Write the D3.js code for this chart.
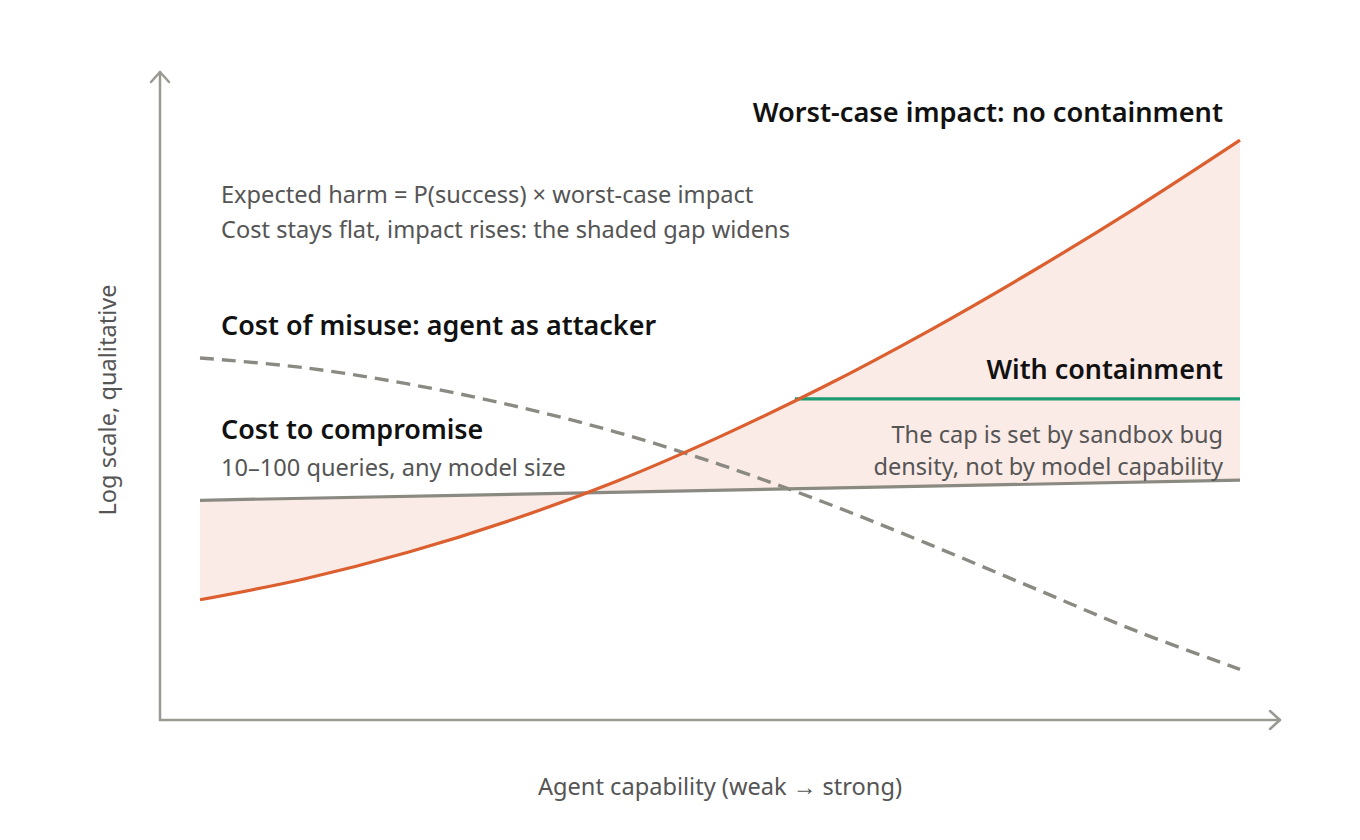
<!DOCTYPE html>
<html>
<head>
<meta charset="utf-8">
<script src="https://cdn.jsdelivr.net/npm/d3@7"></script>
<style>
  html, body { margin: 0; padding: 0; background: #ffffff; }
  svg { display: block; font-family: "Noto Sans", "Open Sans", sans-serif; }
</style>
</head>
<body>
<svg id="chart" width="1360" height="840"></svg>
<script>
// ---- Data (qualitative, log scale units 0..100; capability 0..10) ----
const capability = [0, 1, 2, 3, 4, 5, 6, 7, 8, 9, 10];
const worstCaseImpact = [18.5, 21.7, 25.8, 30.8, 36.7, 43.6, 51.3, 59.8, 69.0, 78.8, 89.2];
const costOfMisuse = [55.7, 54.2, 51.7, 48.4, 44.3, 39.3, 33.5, 27.1, 20.4, 13.7, 7.8];
const costToCompromiseX = [0, 10];
const costToCompromise = [33.8, 36.9];
const containmentX = [5.72, 10];
const containmentCap = [49.4, 49.4];

const labels = {
  worst: "Worst-case impact: no containment",
  note1: "Expected harm = P(success) \u00d7 worst-case impact",
  note2: "Cost stays flat, impact rises: the shaded gap widens",
  misuse: "Cost of misuse: agent as attacker",
  compromise: "Cost to compromise",
  compromiseSub: "10\u2013100 queries, any model size",
  contain: "With containment",
  capNote1: "The cap is set by sandbox bug",
  capNote2: "density, not by model capability",
  xTitle: "Agent capability (weak \u2192 strong)",
  yTitle: "Log scale, qualitative"
};

// ---- Layout ----
const svg = d3.select("#chart");
const x = d3.scaleLinear().domain([0, 10]).range([200, 1240]);
const y = d3.scaleLinear().domain([0, 100]).range([720, 70]);

const C = {
  orange: "#dc5f2f",
  gray: "#8b8a82",
  green: "#1e9b72",
  axis: "#9a9a92",
  fill: "#fbebe7",
  dark: "#111111",
  mid: "#555555"
};

const grayAt = d3.scaleLinear().domain(costToCompromiseX).range(costToCompromise);
const rows = capability.map((c, i) => ({ c, w: worstCaseImpact[i], m: costOfMisuse[i], g: grayAt(c) }));

// Shaded gap
svg.append("path")
  .datum(rows)
  .attr("fill", C.fill)
  .attr("d", d3.area()
    .x(d => x(d.c))
    .y0(d => y(d.g))
    .y1(d => y(d.w))
    .curve(d3.curveCatmullRom));

// Axes with arrowheads
const ax = svg.append("g").attr("stroke", C.axis).attr("stroke-width", 2.5).attr("fill", "none")
  .attr("stroke-linecap", "round").attr("stroke-linejoin", "round");
const x0 = 160, yBase = 720, xEnd = 1280, yTop = 72;
ax.append("line").attr("x1", x0).attr("y1", yBase).attr("x2", xEnd).attr("y2", yBase);
ax.append("line").attr("x1", x0).attr("y1", yBase).attr("x2", x0).attr("y2", yTop);
ax.append("path").attr("d", `M${xEnd - 10},${yBase - 9} L${xEnd},${yBase} L${xEnd - 10},${yBase + 9}`);
ax.append("path").attr("d", `M${x0 - 9},${yTop + 10} L${x0},${yTop} L${x0 + 9},${yTop + 10}`);

const line = d3.line().curve(d3.curveCatmullRom);

// Cost of misuse (dashed)
svg.append("path")
  .attr("d", line(capability.map((c, i) => [x(c), y(costOfMisuse[i])])))
  .attr("fill", "none").attr("stroke", C.gray).attr("stroke-width", 3.4)
  .attr("stroke-dasharray", "14,8");

// Cost to compromise (solid gray)
svg.append("path")
  .attr("d", d3.line()(costToCompromiseX.map((c, i) => [x(c), y(costToCompromise[i])])))
  .attr("fill", "none").attr("stroke", C.gray).attr("stroke-width", 3.2);

// Containment cap (green)
svg.append("path")
  .attr("d", d3.line()(containmentX.map((c, i) => [x(c), y(containmentCap[i])])))
  .attr("fill", "none").attr("stroke", C.green).attr("stroke-width", 3.2);

// Worst-case impact (orange)
svg.append("path")
  .attr("d", line(capability.map((c, i) => [x(c), y(worstCaseImpact[i])])))
  .attr("fill", "none").attr("stroke", C.orange).attr("stroke-width", 3.2);

// ---- Text ----
function txt(s, px, py, opt) {
  return svg.append("text").attr("x", px).attr("y", py).text(s)
    .attr("font-size", opt.size).attr("fill", opt.color)
    .attr("font-weight", opt.weight || 400)
    .attr("text-anchor", opt.anchor || "start");
}
const H = { size: 26.9, color: C.dark, weight: 600 };
const S = { size: 23.6, color: C.mid, weight: 400 };

txt(labels.worst, 1223, 122, Object.assign({}, H, { size: 27.2, anchor: "end" }));
txt(labels.note1, 221, 203, S);
txt(labels.note2, 221, 238, S);
txt(labels.misuse, 221, 335, H);
txt(labels.compromise, 221, 439, H);
txt(labels.compromiseSub, 221, 476, S);
txt(labels.contain, 1223, 379, Object.assign({}, H, { anchor: "end" }));
txt(labels.capNote1, 1223, 443, Object.assign({}, S, { anchor: "end" }));
txt(labels.capNote2, 1223, 475, Object.assign({}, S, { anchor: "end" }));
txt(labels.xTitle, 720, 795, Object.assign({}, S, { anchor: "middle" }));
svg.append("text")
  .attr("transform", "translate(116,400) rotate(-90)")
  .attr("text-anchor", "middle")
  .attr("font-size", 23.6).attr("fill", C.mid)
  .text(labels.yTitle);
</script>
</body>
</html>
